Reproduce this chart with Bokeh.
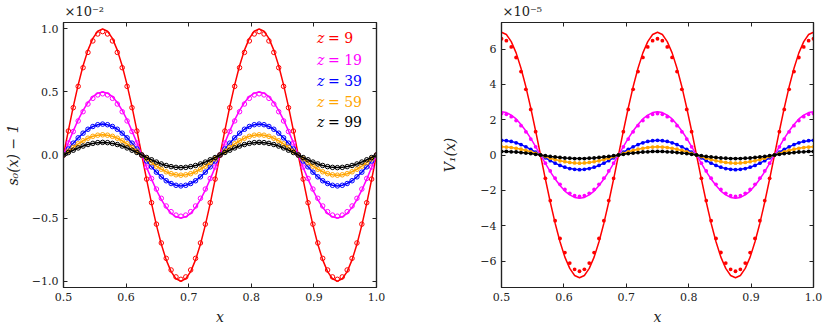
import numpy as np
from bokeh.plotting import figure
from bokeh.models import LinearAxis, Label, Range1d, FixedTicker, CustomJSTickFormatter, CustomLabelingPolicy
from bokeh.layouts import row
from bokeh.embed import file_html
from bokeh.resources import INLINE

# ---------------- data ----------------
x_grid = np.linspace(0.5, 1.0, 65)   # sample positions (spacing 1/128)

z_labels = ["9", "19", "39", "59", "99"]
colors = ["#ff0000", "#ff00ff", "#0000ff", "#ffa500", "#000000"]

# left panel: s0(x) - 1  (units of 1e-2), theory lines
s0_line_z9 = [0, .195, .383, .556, .707, .831, .924, .981, 1.0, .981, .924, .831, .707, .556, .383, .195,
              0, -.195, -.383, -.556, -.707, -.831, -.924, -.981, -1.0, -.981, -.924, -.831, -.707, -.556, -.383, -.195,
              0, .195, .383, .556, .707, .831, .924, .981, 1.0, .981, .924, .831, .707, .556, .383, .195,
              0, -.195, -.383, -.556, -.707, -.831, -.924, -.981, -1.0, -.981, -.924, -.831, -.707, -.556, -.383, -.195, 0]
s0_line_z19 = [0, .098, .191, .278, .354, .416, .462, .490, .500, .490, .462, .416, .354, .278, .191, .098,
               0, -.098, -.191, -.278, -.354, -.416, -.462, -.490, -.500, -.490, -.462, -.416, -.354, -.278, -.191, -.098,
               0, .098, .191, .278, .354, .416, .462, .490, .500, .490, .462, .416, .354, .278, .191, .098,
               0, -.098, -.191, -.278, -.354, -.416, -.462, -.490, -.500, -.490, -.462, -.416, -.354, -.278, -.191, -.098, 0]
s0_line_z39 = [0, .048, .094, .136, .173, .204, .226, .240, .245, .240, .226, .204, .173, .136, .094, .048,
               0, -.048, -.094, -.136, -.173, -.204, -.226, -.240, -.245, -.240, -.226, -.204, -.173, -.136, -.094, -.048,
               0, .048, .094, .136, .173, .204, .226, .240, .245, .240, .226, .204, .173, .136, .094, .048,
               0, -.048, -.094, -.136, -.173, -.204, -.226, -.240, -.245, -.240, -.226, -.204, -.173, -.136, -.094, -.048, 0]
s0_line_z59 = [0, .031, .061, .089, .113, .133, .148, .157, .160, .157, .148, .133, .113, .089, .061, .031,
               0, -.031, -.061, -.089, -.113, -.133, -.148, -.157, -.160, -.157, -.148, -.133, -.113, -.089, -.061, -.031,
               0, .031, .061, .089, .113, .133, .148, .157, .160, .157, .148, .133, .113, .089, .061, .031,
               0, -.031, -.061, -.089, -.113, -.133, -.148, -.157, -.160, -.157, -.148, -.133, -.113, -.089, -.061, -.031, 0]
s0_line_z99 = [0, .020, .038, .056, .071, .083, .092, .098, .100, .098, .092, .083, .071, .056, .038, .020,
               0, -.020, -.038, -.056, -.071, -.083, -.092, -.098, -.100, -.098, -.092, -.083, -.071, -.056, -.038, -.020,
               0, .020, .038, .056, .071, .083, .092, .098, .100, .098, .092, .083, .071, .056, .038, .020,
               0, -.020, -.038, -.056, -.071, -.083, -.092, -.098, -.100, -.098, -.092, -.083, -.071, -.056, -.038, -.020, 0]
# left panel: simulation points (where they differ from the lines)
s0_pts_z9 = [0, .190, .375, .544, .692, .813, .904, .959, .978, .959, .904, .813, .692, .544, .375, .190,
             0, -.191, -.378, -.548, -.697, -.819, -.911, -.966, -.985, -.966, -.911, -.819, -.697, -.548, -.378, -.191,
             0, .190, .375, .544, .692, .813, .904, .959, .978, .959, .904, .813, .692, .544, .375, .190,
             0, -.191, -.378, -.548, -.697, -.819, -.911, -.966, -.985, -.966, -.911, -.819, -.697, -.548, -.378, -.191, 0]
s0_pts_z19 = [0, .095, .186, .270, .343, .404, .449, .476, .485, .476, .449, .404, .343, .270, .186, .095,
              0, -.095, -.186, -.270, -.343, -.404, -.449, -.476, -.485, -.476, -.449, -.404, -.343, -.270, -.186, -.095,
              0, .095, .186, .270, .343, .404, .449, .476, .485, .476, .449, .404, .343, .270, .186, .095,
              0, -.095, -.186, -.270, -.343, -.404, -.449, -.476, -.485, -.476, -.449, -.404, -.343, -.270, -.186, -.095, 0]

# right panel: V1(x)  (units of 1e-5), theory lines
v1_line_z9 = [6.95, 6.82, 6.42, 5.78, 4.91, 3.86, 2.66, 1.36, 0, -1.36, -2.66, -3.86, -4.91, -5.78, -6.42, -6.82,
              -6.95, -6.82, -6.42, -5.78, -4.91, -3.86, -2.66, -1.36, 0, 1.36, 2.66, 3.86, 4.91, 5.78, 6.42, 6.82,
              6.95, 6.82, 6.42, 5.78, 4.91, 3.86, 2.66, 1.36, 0, -1.36, -2.66, -3.86, -4.91, -5.78, -6.42, -6.82,
              -6.95, -6.82, -6.42, -5.78, -4.91, -3.86, -2.66, -1.36, 0, 1.36, 2.66, 3.86, 4.91, 5.78, 6.42, 6.82, 6.95]
v1_line_z19 = [2.45, 2.40, 2.26, 2.04, 1.73, 1.36, 0.94, 0.48, 0, -0.48, -0.94, -1.36, -1.73, -2.04, -2.26, -2.40,
               -2.45, -2.40, -2.26, -2.04, -1.73, -1.36, -0.94, -0.48, 0, 0.48, 0.94, 1.36, 1.73, 2.04, 2.26, 2.40,
               2.45, 2.40, 2.26, 2.04, 1.73, 1.36, 0.94, 0.48, 0, -0.48, -0.94, -1.36, -1.73, -2.04, -2.26, -2.40,
               -2.45, -2.40, -2.26, -2.04, -1.73, -1.36, -0.94, -0.48, 0, 0.48, 0.94, 1.36, 1.73, 2.04, 2.26, 2.40, 2.45]
v1_line_z39 = [0.83, 0.81, 0.77, 0.69, 0.59, 0.46, 0.32, 0.16, 0, -0.16, -0.32, -0.46, -0.59, -0.69, -0.77, -0.81,
               -0.83, -0.81, -0.77, -0.69, -0.59, -0.46, -0.32, -0.16, 0, 0.16, 0.32, 0.46, 0.59, 0.69, 0.77, 0.81,
               0.83, 0.81, 0.77, 0.69, 0.59, 0.46, 0.32, 0.16, 0, -0.16, -0.32, -0.46, -0.59, -0.69, -0.77, -0.81,
               -0.83, -0.81, -0.77, -0.69, -0.59, -0.46, -0.32, -0.16, 0, 0.16, 0.32, 0.46, 0.59, 0.69, 0.77, 0.81, 0.83]
v1_line_z59 = [0.46, 0.45, 0.42, 0.38, 0.33, 0.26, 0.18, 0.09, 0, -0.09, -0.18, -0.26, -0.33, -0.38, -0.42, -0.45,
               -0.46, -0.45, -0.42, -0.38, -0.33, -0.26, -0.18, -0.09, 0, 0.09, 0.18, 0.26, 0.33, 0.38, 0.42, 0.45,
               0.46, 0.45, 0.42, 0.38, 0.33, 0.26, 0.18, 0.09, 0, -0.09, -0.18, -0.26, -0.33, -0.38, -0.42, -0.45,
               -0.46, -0.45, -0.42, -0.38, -0.33, -0.26, -0.18, -0.09, 0, 0.09, 0.18, 0.26, 0.33, 0.38, 0.42, 0.45, 0.46]
v1_line_z99 = [0.20, 0.20, 0.18, 0.17, 0.14, 0.11, 0.08, 0.04, 0, -0.04, -0.08, -0.11, -0.14, -0.17, -0.18, -0.20,
               -0.20, -0.20, -0.18, -0.17, -0.14, -0.11, -0.08, -0.04, 0, 0.04, 0.08, 0.11, 0.14, 0.17, 0.18, 0.20,
               0.20, 0.20, 0.18, 0.17, 0.14, 0.11, 0.08, 0.04, 0, -0.04, -0.08, -0.11, -0.14, -0.17, -0.18, -0.20,
               -0.20, -0.20, -0.18, -0.17, -0.14, -0.11, -0.08, -0.04, 0, 0.04, 0.08, 0.11, 0.14, 0.17, 0.18, 0.20, 0.20]
# right panel: simulation points (where they differ from the lines)
v1_pts_z9 = [6.58, 6.47, 6.12, 5.52, 4.72, 3.72, 2.58, 1.32, 0, -1.32, -2.58, -3.72, -4.72, -5.52, -6.12, -6.47,
             -6.58, -6.47, -6.12, -5.52, -4.72, -3.72, -2.58, -1.32, 0, 1.32, 2.58, 3.72, 4.72, 5.52, 6.12, 6.47,
             6.58, 6.47, 6.12, 5.52, 4.72, 3.72, 2.58, 1.32, 0, -1.32, -2.58, -3.72, -4.72, -5.52, -6.12, -6.47,
             -6.58, -6.47, -6.12, -5.52, -4.72, -3.72, -2.58, -1.32, 0, 1.32, 2.58, 3.72, 4.72, 5.52, 6.12, 6.47, 6.58]
v1_pts_z19 = [2.35, 2.30, 2.17, 1.95, 1.66, 1.31, 0.90, 0.46, 0, -0.46, -0.90, -1.31, -1.66, -1.95, -2.17, -2.30,
              -2.35, -2.30, -2.17, -1.95, -1.66, -1.31, -0.90, -0.46, 0, 0.46, 0.90, 1.31, 1.66, 1.95, 2.17, 2.30,
              2.35, 2.30, 2.17, 1.95, 1.66, 1.31, 0.90, 0.46, 0, -0.46, -0.90, -1.31, -1.66, -1.95, -2.17, -2.30,
              -2.35, -2.30, -2.17, -1.95, -1.66, -1.31, -0.90, -0.46, 0, 0.46, 0.90, 1.31, 1.66, 1.95, 2.17, 2.30, 2.35]

x_ticks = [0.5, 0.6, 0.7, 0.8, 0.9, 1.0]
s0_ticks = [-1.0, -0.5, 0.0, 0.5, 1.0]
v1_ticks = [-6, -4, -2, 0, 2, 4, 6]

left_lines = [s0_line_z9, s0_line_z19, s0_line_z39, s0_line_z59, s0_line_z99]
left_pts = [s0_pts_z9, s0_pts_z19, s0_line_z39, s0_line_z59, s0_line_z99]
right_lines = [v1_line_z9, v1_line_z19, v1_line_z39, v1_line_z59, v1_line_z99]
right_pts = [v1_pts_z9, v1_pts_z19, v1_line_z39, v1_line_z59, v1_line_z99]

# ---------------- styling ----------------
FONT = "DejaVu Serif"
TXT = "#222222"

NO_LABELS = CustomLabelingPolicy(code="""
    try {
        for (const i of [...indices]) { indices.unset(i) }
        return indices
    } catch (e) {
        return new Set()
    }
""")


def fmt(decimals):
    return CustomJSTickFormatter(args=dict(d=decimals), code="""
        const s = Math.abs(tick).toFixed(d);
        return (tick < -1e-12 ? "\\u2212" : "") + s;
    """)


def make_fig(ymin, ymax, yticks, ydec, ylabel, bl, br, fw, ylabel_standoff, exponent):
    p = figure(frame_width=fw, frame_height=265,
               x_range=Range1d(0.5, 1.0), y_range=Range1d(ymin, ymax),
               output_backend="svg", toolbar_location=None, tools="",
               min_border_left=bl, min_border_right=br, min_border_top=22, min_border_bottom=44)
    p.xgrid.visible = False
    p.ygrid.visible = False
    p.outline_line_color = "#222222"
    p.outline_line_width = 1.2
    p.background_fill_color = "white"
    p.border_fill_color = "white"

    p.title.text = "\u00d710" + exponent
    p.title.align = "left"
    p.title.offset = 1
    p.title.standoff = 0
    p.title.text_font = FONT
    p.title.text_font_size = "13px"
    p.title.text_font_style = "normal"
    p.title.text_color = TXT

    p.xaxis.ticker = FixedTicker(ticks=x_ticks)
    p.yaxis.ticker = FixedTicker(ticks=yticks)
    p.xaxis.formatter = fmt(1)
    p.yaxis.formatter = fmt(ydec)
    p.xaxis.axis_label = "x"
    p.yaxis.axis_label = ylabel
    for ax in [p.xaxis[0], p.yaxis[0]]:
        ax.major_tick_in = 4
        ax.major_tick_out = 0
        ax.minor_tick_in = 0
        ax.minor_tick_out = 0
        ax.axis_line_color = "#222222"
        ax.axis_line_width = 1.2
        ax.major_tick_line_color = "#222222"
        ax.major_label_text_font = FONT
        ax.major_label_text_font_size = "11px"
        ax.major_label_text_color = TXT
        ax.axis_label_text_font = FONT
        ax.axis_label_text_font_size = "14px"
        ax.axis_label_text_font_style = "italic"
        ax.axis_label_text_color = TXT
    p.xaxis.major_label_standoff = 5
    p.xaxis.axis_label_standoff = 5
    p.yaxis.major_label_standoff = 5
    p.yaxis.axis_label_standoff = ylabel_standoff

    for loc, tk in [("right", yticks), ("above", x_ticks)]:
        ax = LinearAxis(ticker=FixedTicker(ticks=tk), major_label_text_font_size="1px",
                        major_label_policy=NO_LABELS,
                        major_label_standoff=0, major_tick_in=4, major_tick_out=0,
                        minor_tick_in=0, minor_tick_out=0, axis_line_color="#222222",
                        axis_line_width=1.2, major_tick_line_color="#222222")
        p.add_layout(ax, loc)
    return p


# ---------------- left panel ----------------
p1 = make_fig(-1.05, 1.05, s0_ticks, 1, "s\u2080(x) \u2212 1", 63, 50, 313, 8, "\u207b\u00b2")
for line_y, pts_y, c in zip(left_lines, left_pts, colors):
    p1.line(x_grid, line_y, line_color=c, line_width=1.5)
    p1.scatter(x_grid, pts_y, marker="circle", size=4.5, line_color=c, line_width=1.0, fill_color=None)

legend_y = [0.926, 0.755, 0.589, 0.423, 0.26]
for lbl, c, yy in zip(z_labels, colors, legend_y):
    p1.add_layout(Label(x=0.905, y=yy, text="z", text_font=FONT, text_font_style="italic",
                        text_font_size="14px", text_color=c, text_baseline="middle"))
    p1.add_layout(Label(x=0.905, y=yy, x_offset=11, text="= " + lbl, text_font=FONT,
                        text_font_size="14px", text_color=c, text_baseline="middle"))

# ---------------- right panel ----------------
p2 = make_fig(-7.5, 7.5, v1_ticks, 0, "V\u2081(x)", 75, 18, 312, 19, "\u207b\u2075")
for line_y, pts_y, c in zip(right_lines, right_pts, colors):
    p2.line(x_grid, line_y, line_color=c, line_width=1.5)
    p2.scatter(x_grid, pts_y, marker="circle", size=3.8, line_color=None, fill_color=c)

layout = row(p1, p2)
open("out.html", "w").write(file_html(layout, INLINE))
